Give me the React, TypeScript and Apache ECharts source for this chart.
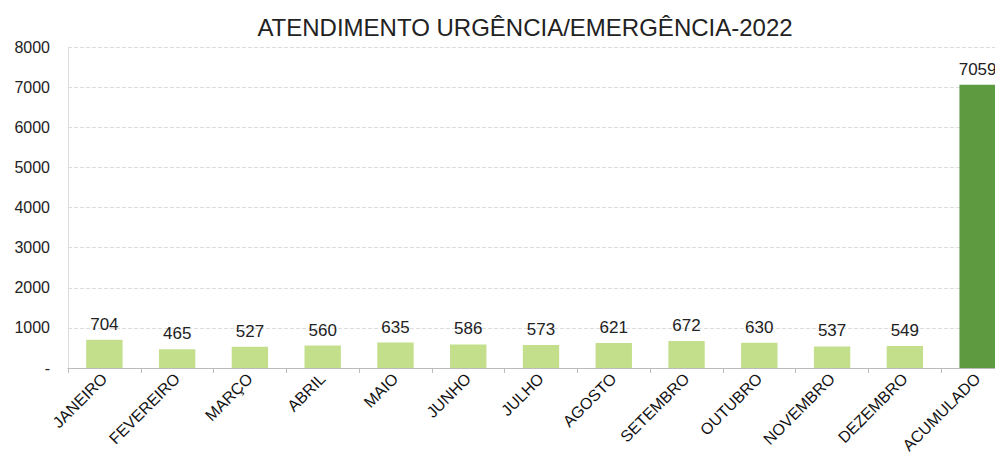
import React, { useEffect, useRef } from "react";
import * as echarts from "echarts";

const categories = ["JANEIRO","FEVEREIRO","MARÇO","ABRIL","MAIO","JUNHO","JULHO","AGOSTO","SETEMBRO","OUTUBRO","NOVEMBRO","DEZEMBRO","ACUMULADO"];
const values = [704,465,527,560,635,586,573,621,672,630,537,549,7059];
const title = "ATENDIMENTO URGÊNCIA/EMERGÊNCIA-2022";

export default function App() {
  const ref = useRef<HTMLDivElement>(null);
  useEffect(() => {
    const chart = echarts.init(ref.current!, null, { renderer: "svg" });
    chart.setOption({
      animation: false,
      title: {
        text: title,
        left: 512,
        top: 2,
        textAlign: "center",
        textStyle: { fontFamily: "Liberation Sans", fontSize: 24, fontWeight: "normal", color: "#222" },
      },
      grid: { left: 60, right: 0, top: 39, bottom: 89, containLabel: false },
      xAxis: {
        type: "category",
        data: categories,
        axisLine: { lineStyle: { color: "#bbb" } },
        axisTick: { show: true, alignWithLabel: false, lineStyle: { color: "#bbb" } },
        axisLabel: { rotate: 45, interval: 0, fontFamily: "Liberation Sans", fontSize: 16, color: "#111", margin: 8 },
      },
      yAxis: {
        type: "value",
        min: 0,
        max: 8000,
        interval: 1000,
        axisLine: { show: true, lineStyle: { color: "#ddd" } },
        splitLine: { lineStyle: { color: "#ddd", type: "dashed" } },
        axisLabel: {
          fontFamily: "Liberation Sans", fontSize: 16, color: "#222", margin: 18,
          formatter: (v: number) => (v === 0 ? "-" : String(v)),
        },
      },
      series: [{
        type: "bar",
        barWidth: "50%",
        data: values.map((v, i) => ({
          value: v,
          itemStyle: { color: i === values.length - 1 ? "#5e9a40" : "#c3df8c" },
        })),
        label: { show: true, position: "top", distance: 7, fontFamily: "Liberation Sans", fontSize: 17, color: "#222" },
      }],
    });
    return () => chart.dispose();
  }, []);
  return (
    <div style={{ width: 995, height: 449, overflow: "hidden" }}>
      <div ref={ref} style={{ width: 1006, height: 449 }} />
    </div>
  );
}
